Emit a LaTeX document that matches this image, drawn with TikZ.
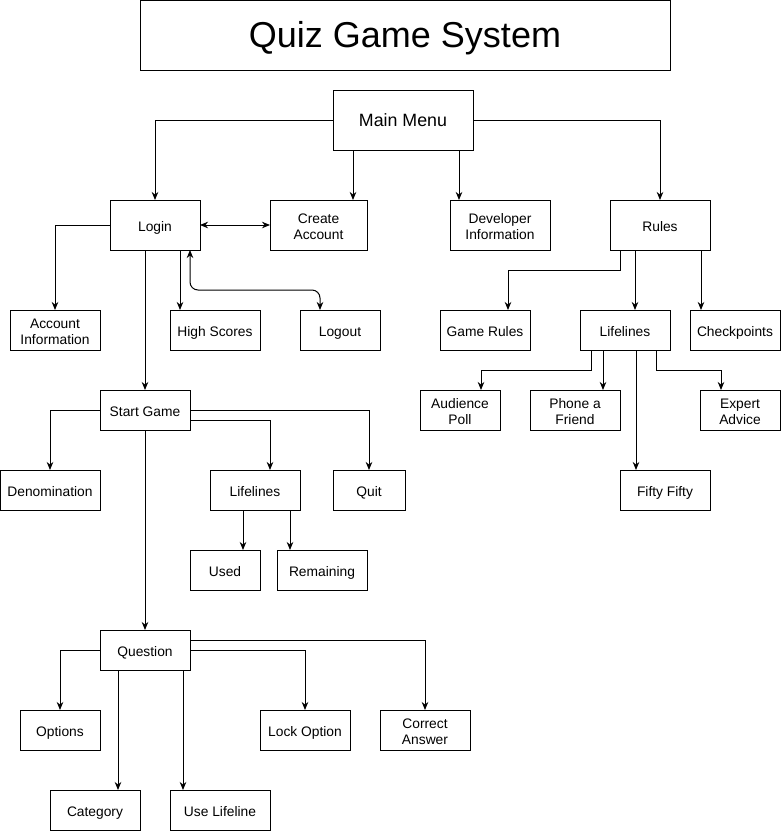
\documentclass[tikz,border=0pt]{standalone}
\usepackage{fontspec}
\setmainfont{Liberation Sans}
\usetikzlibrary{arrows.meta}
\tikzset{
  box/.style={draw, line width=1pt, inner sep=0pt, outer sep=0pt, align=center,
    font=\fontsize{13.8}{16}\selectfont, text height=13pt, text depth=1pt},
  two/.style={text height=30pt, text depth=1pt},
  arr/.style={line width=1pt, -{Stealth[length=8pt,width=6.5pt,inset=2.5pt]}},
  arrtwo/.style={line width=1pt, {Stealth[length=8pt,width=6.5pt,inset=2.5pt]}-{Stealth[length=8pt,width=6.5pt,inset=2.5pt]}},
}
\begin{document}
\begin{tikzpicture}[x=1pt,y=-1pt]
\useasboundingbox[fill=white] (0,0) rectangle (781,831);
% nodes
\node[box, minimum width=530pt, minimum height=70pt, font=\fontsize{36}{40}\selectfont, text height=30pt, text depth=5.5pt] (title) at (405,35) {Quiz Game System};
\node[box, minimum width=140pt, minimum height=60pt, font=\fontsize{17.8}{20}\selectfont, text height=12.8pt, text depth=0pt] (mm) at (403,120) {Main Menu};
\node[box, minimum width=90pt, minimum height=50pt] (login) at (155,225) {Login};
\node[box, two, minimum width=97pt, minimum height=50pt] (ca) at (318.5,225) {Create\\Account};
\node[box, two, minimum width=100pt, minimum height=50pt] (dev) at (500,225) {Developer\\Information};
\node[box, minimum width=100pt, minimum height=50pt] (rules) at (660,225) {Rules};
\node[box, two, minimum width=90pt, minimum height=40pt] (ai) at (55,330) {Account\\Information};
\node[box, minimum width=90pt, minimum height=40pt] (hs) at (215,330) {High Scores};
\node[box, minimum width=80pt, minimum height=40pt] (lo) at (340,330) {Logout};
\node[box, minimum width=90pt, minimum height=40pt] (gr) at (485,330) {Game Rules};
\node[box, minimum width=90pt, minimum height=40pt] (rl) at (625,330) {Lifelines};
\node[box, minimum width=90pt, minimum height=40pt] (cp) at (735,330) {Checkpoints};
\node[box, two, minimum width=80pt, minimum height=40pt] (ap) at (460,410) {Audience\\Poll};
\node[box, two, minimum width=90pt, minimum height=40pt] (pf) at (575,410) {Phone a\\Friend};
\node[box, two, minimum width=80pt, minimum height=40pt] (ea) at (740,410) {Expert\\Advice};
\node[box, minimum width=90pt, minimum height=40pt] (ff) at (665,490) {Fifty Fifty};
\node[box, minimum width=90pt, minimum height=40pt] (sg) at (145,410) {Start Game};
\node[box, minimum width=100pt, minimum height=40pt] (den) at (50,490) {Denomination};
\node[box, minimum width=90pt, minimum height=40pt] (sl) at (255,490) {Lifelines};
\node[box, minimum width=72pt, minimum height=40pt] (quit) at (369,490) {Quit};
\node[box, minimum width=70pt, minimum height=40pt] (used) at (225,570) {Used};
\node[box, minimum width=90pt, minimum height=40pt] (rem) at (322,570) {Remaining};
\node[box, minimum width=90pt, minimum height=40pt] (q) at (145,650) {Question};
\node[box, minimum width=80pt, minimum height=40pt] (opt) at (60,730) {Options};
\node[box, minimum width=90pt, minimum height=40pt] (lock) at (305,730) {Lock Option};
\node[box, two, minimum width=90pt, minimum height=40pt] (cans) at (425,730) {Correct\\Answer};
\node[box, minimum width=90pt, minimum height=40pt] (cat) at (95,810) {Category};
\node[box, minimum width=100pt, minimum height=40pt] (ul) at (220,810) {Use Lifeline};
% connectors
\draw[arr] (mm.west) -| (login.north);
\draw[arr] ([xshift=-50pt]mm.south) -- ++(0,50);
\draw[arr] ([xshift=56pt]mm.south) -- ++(0,50);
\draw[arr] (mm.east) -| (rules.north);
\draw[arrtwo] (login.east) -- (ca.west);
\draw[arr] (login.west) -| (ai.north);
\draw[arr] ([xshift=25pt]login.south) -- ++(0,60);
\draw[arrtwo, rounded corners=8pt] ([xshift=35pt]login.south) -- ++(0,40) -| ([xshift=-20pt]lo.north);
\draw[arr] (sg.north |- login.south) -- (sg.north);
\draw[arr] ([xshift=-40pt]rules.south) -- ++(0,20) -| ([xshift=23pt]gr.north);
\draw[arr] ([xshift=-25pt]rules.south) -- ++(0,60);
\draw[arr] ([xshift=41pt]rules.south) -- ++(0,60);
\draw[arr] ([xshift=-34pt]rl.south) -- ++(0,20) -| ([xshift=21pt]ap.north);
\draw[arr] ([xshift=-22pt]rl.south) -- ++(0,40);
\draw[arr] ([xshift=31pt]rl.south) -- ++(0,20) -| ([xshift=-19pt]ea.north);
\draw[arr] ([xshift=11pt]rl.south) -- ++(0,120);
\draw[arr] (sg.west) -| (den.north);
\draw[arr] ([yshift=-10pt]sg.east) -| ([xshift=15pt]sl.north);
\draw[arr] (sg.east) -| (quit.north);
\draw[arr] (sg.south) -- (q.north);
\draw[arr] ([xshift=-12pt]sl.south) -- ++(0,40);
\draw[arr] ([xshift=35pt]sl.south) -- ++(0,40);
\draw[arr] (q.west) -| (opt.north);
\draw[arr] ([xshift=-27pt]q.south) -- ++(0,120);
\draw[arr] ([xshift=38pt]q.south) -- ++(0,120);
\draw[arr] (q.east) -| (lock.north);
\draw[arr] ([yshift=10pt]q.east) -| (cans.north);
\end{tikzpicture}
\end{document}
